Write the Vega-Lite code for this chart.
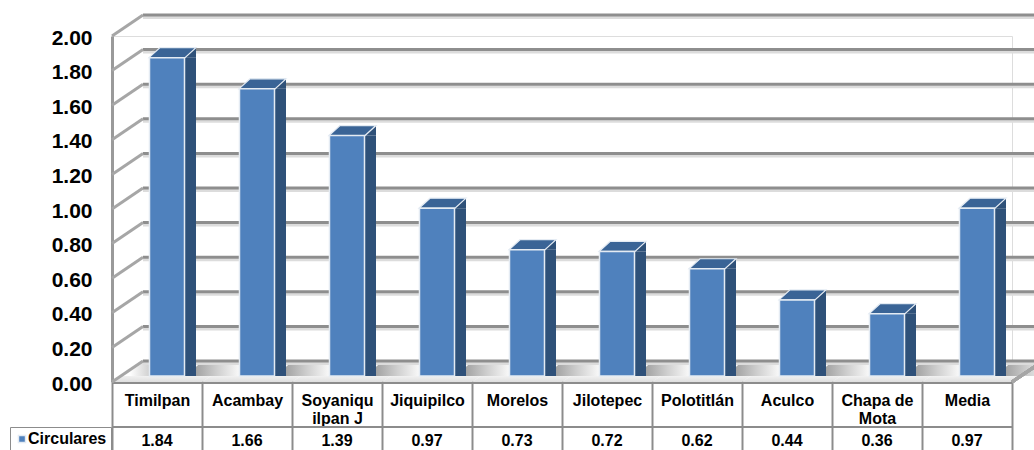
{"$schema":"https://vega.github.io/schema/vega-lite/v6.json","width":900,"height":346,"autosize":{"type":"none"},"padding":{"left":112,"right":22,"top":36,"bottom":68},"background":"white","datasets":{"rows":[{"municipio":"Timilpan","circulares":1.84,"serie":"Circulares"},{"municipio":"Acambay","circulares":1.66,"serie":"Circulares"},{"municipio":"Soyaniquilpan J","circulares":1.39,"serie":"Circulares"},{"municipio":"Jiquipilco","circulares":0.97,"serie":"Circulares"},{"municipio":"Morelos","circulares":0.73,"serie":"Circulares"},{"municipio":"Jilotepec","circulares":0.72,"serie":"Circulares"},{"municipio":"Polotitlán","circulares":0.62,"serie":"Circulares"},{"municipio":"Aculco","circulares":0.44,"serie":"Circulares"},{"municipio":"Chapa de Mota","circulares":0.36,"serie":"Circulares"},{"municipio":"Media","circulares":0.97,"serie":"Circulares"}],"ticks":[{"v":0},{"v":0.2},{"v":0.4},{"v":0.6},{"v":0.8},{"v":1},{"v":1.2},{"v":1.4},{"v":1.6},{"v":1.8},{"v":2}]},"data":{"name":"rows"},"encoding":{"x":{"field":"municipio","type":"nominal","sort":null,"title":null,"scale":{"paddingInner":0,"paddingOuter":0},"axis":{"labelAngle":0,"labelFont":"Liberation Sans","labelFontWeight":"bold","labelFontSize":16,"labelColor":"black","labelLineHeight":18,"labelBaseline":"top","labelPadding":-58,"tickBand":"extent","tickSize":68,"tickWidth":2,"tickColor":"#8c8c8c","domainColor":"#8c8c8c","domainWidth":3,"labelExpr":"datum.value=='Soyaniquilpan J'?['Soyaniqu','ilpan J']:datum.value=='Chapa de Mota'?['Chapa de','Mota']:datum.label"}},"y":{"field":"circulares","type":"quantitative","title":null,"scale":{"domain":[0,2]},"axis":{"values":[0,0.2,0.4,0.6,0.8,1,1.2,1.4,1.6,1.8,2],"format":".2f","grid":false,"ticks":false,"labelFont":"Liberation Sans","labelFontWeight":"bold","labelFontSize":21,"labelColor":"black","labelPadding":20,"labelOffset":2,"domainColor":"#9a9a9a","domainWidth":3}}},"layer":[{"data":{"name":"rows"},"mark":{"type":"point","filled":true,"opacity":1,"size":4,"shape":"M-45 0L-14 -21L76 -21L45 0Z","fill":{"gradient":"linear","x1":0,"y1":0,"x2":0,"y2":1,"stops":[{"offset":0,"color":"#ffffff"},{"offset":0.7,"color":"#f2f2f2"},{"offset":1,"color":"#dedede"}]}},"encoding":{"y":{"datum":0}}},{"data":{"name":"rows"},"mark":{"type":"point","filled":true,"opacity":1,"size":4,"shape":"M28 -6L46 -21L100 -21L82 -6Z","fill":{"gradient":"linear","x1":0,"y1":0,"x2":1,"y2":0,"stops":[{"offset":0,"color":"#8c8c8c"},{"offset":0.45,"color":"#cfcfcf"},{"offset":0.8,"color":"#ffffff"}]}},"encoding":{"y":{"datum":0}}},{"data":{"name":"ticks"},"mark":{"type":"point","filled":true,"opacity":1,"size":4,"shape":"M-35 -6L-14 -21L3 -21L-8 -6Z","fill":{"gradient":"linear","x1":0,"y1":0,"x2":1,"y2":0,"stops":[{"offset":0.2,"color":"#ffffff"},{"offset":1,"color":"#b8b8b8"}]}},"transform":[{"filter":"datum.v==0"}],"encoding":{"x":{"datum":"Timilpan"},"y":{"field":"v","type":"quantitative"}}},{"data":{"name":"ticks"},"mark":{"type":"rule","color":"#dcdcdc","strokeWidth":3,"xOffset":31,"x2Offset":60,"yOffset":-18.5,"y2Offset":-18.5},"encoding":{"x":{"value":0},"x2":{"value":900},"y":{"field":"v","type":"quantitative"}}},{"data":{"name":"ticks"},"mark":{"type":"rule","color":"#8e8e8e","strokeWidth":3,"xOffset":31,"x2Offset":60,"yOffset":-21,"y2Offset":-21},"encoding":{"x":{"value":0},"x2":{"value":900},"y":{"field":"v","type":"quantitative"}}},{"data":{"name":"ticks"},"mark":{"type":"point","filled":false,"opacity":1,"size":4,"shape":"M0 0L31 -21","stroke":"#a6a6a6","strokeWidth":3},"encoding":{"x":{"datum":"Timilpan","bandPosition":0},"y":{"field":"v","type":"quantitative"}}},{"data":{"name":"rows"},"mark":{"type":"point","filled":false,"opacity":1,"size":4,"shape":"M45 0L76 -21","stroke":"#a6a6a6","strokeWidth":3},"encoding":{"x":{"datum":"Media"},"y":{"datum":0}}},{"mark":{"type":"bar","size":11,"color":"#2f5179","xOffset":33.5,"x2Offset":33.5,"yOffset":-6,"y2Offset":-16}},{"mark":{"type":"point","filled":true,"opacity":1,"size":4,"shape":"M28 -6L39 -16L39 -6Z","fill":"#2f5179"}},{"mark":{"type":"point","filled":true,"opacity":1,"size":4,"shape":"M28 -16L39 -16L28 -6Z","fill":"#2f5179"},"encoding":{"y":{"datum":0}}},{"mark":{"type":"point","filled":true,"opacity":1,"size":4,"shape":"M-8 -6L3 -16L39 -16L28 -6Z","fill":"#3a6496","stroke":"#e4ebf3","strokeWidth":1.2}},{"mark":{"type":"bar","size":35,"xOffset":10,"x2Offset":10,"yOffset":-6,"y2Offset":-6,"stroke":"#e4ebf3","strokeWidth":1.5},"encoding":{"color":{"field":"serie","type":"nominal","scale":{"range":["#4f81bd"]},"legend":{"title":null,"orient":"none","legendX":-102,"legendY":391,"padding":4,"strokeColor":"#8c8c8c","symbolType":"square","symbolSize":50,"symbolOpacity":1,"labelFont":"Liberation Sans","labelFontWeight":"bold","labelFontSize":16,"labelColor":"black","labelOffset":-2}}}},{"mark":{"type":"rule","color":"#8c8c8c","strokeWidth":2,"yOffset":45,"y2Offset":45},"encoding":{"x":{"value":0},"x2":{"value":900},"y":{"datum":0}}},{"mark":{"type":"text","font":"Liberation Sans","fontWeight":"bold","fontSize":16,"color":"black","baseline":"middle","yOffset":59},"encoding":{"y":{"datum":0},"text":{"field":"circulares","type":"quantitative","format":".2f"}}}]}
